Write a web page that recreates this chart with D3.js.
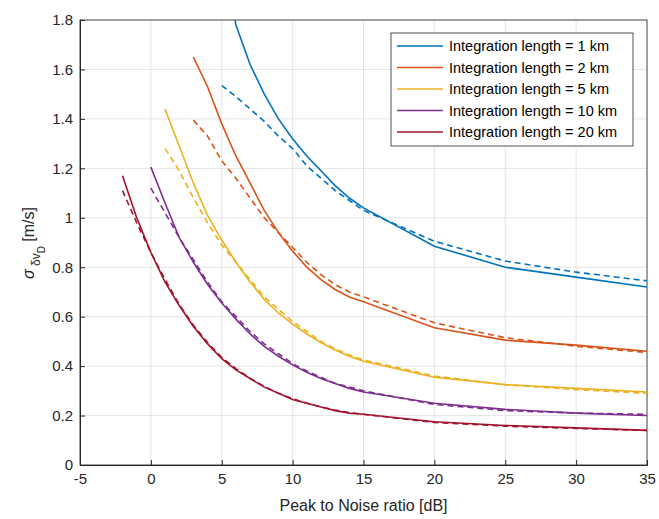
<!DOCTYPE html>
<html>
<head>
<meta charset="UTF-8">
<script src="https://cdn.jsdelivr.net/npm/d3@7"></script>
<style>
 body{margin:0;background:#fff;font-family:"Liberation Sans",Arial,sans-serif;}
 .tick text{font-size:15px;fill:#262626;}
</style>
</head>
<body>
<svg id="c" width="659" height="519"></svg>
<script>
const names = ["Integration length = 1 km","Integration length = 2 km","Integration length = 5 km","Integration length = 10 km","Integration length = 20 km"];
const colors = ["#0072BD","#D95319","#EDB120","#7E2F8E","#A2142F"];
const snrCommon = [5,6,7,8,9,10,11,12,13,14,15,20,25,30,35];
const solid1 = [2.1,1.78,1.62,1.50,1.40,1.32,1.25,1.19,1.13,1.08,1.04,0.885,0.80,0.76,0.72];
const dash1  = [1.535,1.49,1.44,1.39,1.33,1.28,1.21,1.16,1.11,1.07,1.03,0.905,0.825,0.78,0.745];
const snr2 = [3,4].concat(snrCommon);
const solid2 = [1.65,1.53,1.38,1.25,1.14,1.03,0.94,0.865,0.80,0.75,0.71,0.68,0.66,0.555,0.505,0.485,0.46];
const dash2  = [1.395,1.33,1.23,1.16,1.08,1.00,0.94,0.88,0.82,0.77,0.73,0.70,0.68,0.575,0.515,0.48,0.455];
const snr5 = [1,2,3,4].concat(snrCommon);
const solid5 = [1.44,1.29,1.14,1.01,0.91,0.82,0.74,0.67,0.615,0.57,0.53,0.495,0.465,0.44,0.42,0.355,0.325,0.31,0.295];
const dash5  = [1.28,1.19,1.08,0.98,0.89,0.82,0.75,0.68,0.63,0.58,0.54,0.50,0.47,0.445,0.425,0.36,0.325,0.305,0.29];
const snr10 = [0,1,2,3,4].concat(snrCommon);
const solid10 = [1.205,1.06,0.92,0.82,0.73,0.655,0.59,0.53,0.48,0.44,0.405,0.375,0.35,0.33,0.31,0.295,0.25,0.225,0.21,0.2];
const dash10  = [1.12,1.02,0.92,0.83,0.74,0.66,0.60,0.54,0.49,0.45,0.41,0.38,0.355,0.33,0.315,0.30,0.245,0.22,0.21,0.205];
const snr20 = [-2,-1,0,1,2,3,4].concat(snrCommon);
const solid20 = [1.17,1.0,0.86,0.74,0.645,0.56,0.49,0.43,0.385,0.35,0.315,0.29,0.265,0.25,0.235,0.22,0.21,0.205,0.175,0.16,0.15,0.14];
const dash20  = [1.11,0.98,0.86,0.75,0.65,0.565,0.495,0.435,0.39,0.35,0.318,0.29,0.268,0.25,0.235,0.222,0.212,0.205,0.172,0.157,0.148,0.14];
const xTicks = [-5,0,5,10,15,20,25,30,35];
const yTicks = [0,0.2,0.4,0.6,0.8,1,1.2,1.4,1.6,1.8];

const series = [
  [snrCommon, solid1, dash1],[snr2, solid2, dash2],[snr5, solid5, dash5],
  [snr10, solid10, dash10],[snr20, solid20, dash20]];

const m = {l:80, r:12, t:20, b:54}, W = 659, H = 519;
const svg = d3.select("#c");
const x = d3.scaleLinear().domain([-5,35]).range([m.l, W-m.r]);
const y = d3.scaleLinear().domain([0,1.8]).range([H-m.b, m.t]);

svg.append("defs").append("clipPath").attr("id","clip").append("rect")
  .attr("x",m.l).attr("y",m.t).attr("width",W-m.l-m.r).attr("height",H-m.t-m.b);

const g = svg.append("g");
g.selectAll(".gx").data(xTicks).join("line").attr("x1",d=>x(d)).attr("x2",d=>x(d))
  .attr("y1",m.t).attr("y2",H-m.b).attr("stroke","#e5e5e5");
g.selectAll(".gy").data(yTicks).join("line").attr("y1",d=>y(d)).attr("y2",d=>y(d))
  .attr("x1",m.l).attr("x2",W-m.r).attr("stroke","#e5e5e5");

const ax = svg.append("g").attr("transform",`translate(0,${H-m.b})`)
  .call(d3.axisBottom(x).tickValues(xTicks).tickSize(-5).tickPadding(8).tickFormat(d=>String(d)));
const ay = svg.append("g").attr("transform",`translate(${m.l},0)`)
  .call(d3.axisLeft(y).tickValues(yTicks).tickSize(-5).tickPadding(7).tickFormat(d=>String(+d.toFixed(1))));
[ax,ay].forEach(a=>{a.selectAll("path,line").attr("stroke","#262626");});
svg.append("rect").attr("x",m.l).attr("y",m.t).attr("width",W-m.l-m.r).attr("height",H-m.t-m.b)
  .attr("fill","none").attr("stroke","#262626").attr("stroke-width",0.8);

const line = d3.line().x(d=>x(d[0])).y(d=>y(d[1]));
const lg = svg.append("g").attr("clip-path","url(#clip)");
series.forEach((s,i)=>{
  const xs = s[0];
  lg.append("path").attr("d",line(xs.map((v,j)=>[v,s[1][j]])))
    .attr("fill","none").attr("stroke",colors[i]).attr("stroke-width",1.6);
  lg.append("path").attr("d",line(xs.map((v,j)=>[v,s[2][j]])))
    .attr("fill","none").attr("stroke",colors[i]).attr("stroke-width",1.6).attr("stroke-dasharray","6,4");
});

svg.append("text").attr("x",(m.l+W-m.r)/2).attr("y",H-8).attr("text-anchor","middle")
  .attr("font-size",16).attr("fill","#262626").text("Peak to Noise ratio [dB]");
const yl = svg.append("text").attr("transform","translate(34,243) rotate(-90)").attr("text-anchor","middle")
  .attr("fill","#262626").attr("font-size",16);
yl.append("tspan").attr("font-style","italic").text("σ");
yl.append("tspan").attr("font-size",12).attr("dy",6).text(" δv");
yl.append("tspan").attr("font-size",10).attr("dy",5).text("D");
yl.append("tspan").attr("dy",-11).text("  [m/s]");

const L = svg.append("g").attr("transform","translate(391,33)");
L.append("rect").attr("width",242).attr("height",113).attr("fill","#fff").attr("stroke","#262626").attr("stroke-width",0.8);
names.forEach((n,i)=>{
  const yy = 13 + i*21.5;
  L.append("line").attr("x1",6).attr("x2",52).attr("y1",yy).attr("y2",yy).attr("stroke",colors[i]).attr("stroke-width",1.6);
  L.append("text").attr("x",58).attr("y",yy+5).attr("font-size",14.5).attr("fill","#000").text(n);
});
</script>
</body>
</html>
